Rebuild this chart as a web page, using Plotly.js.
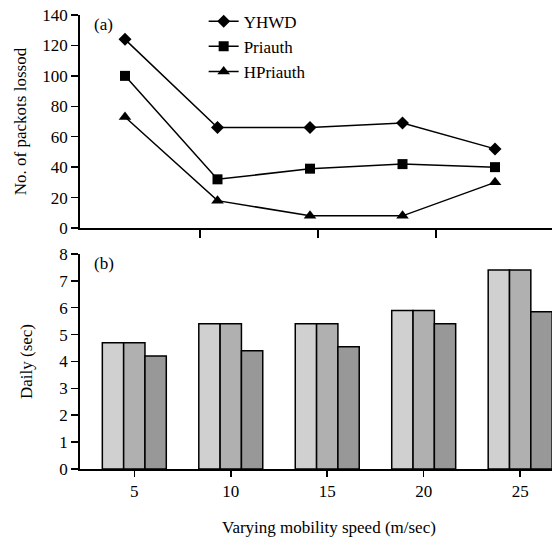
<!DOCTYPE html>
<html><head><meta charset="utf-8">
<script src="https://cdn.plot.ly/plotly-3.0.1.min.js"></script>
<style>html,body{margin:0;padding:0;background:#fff}</style>
</head><body>
<div id="chart" style="width:552px;height:539px"></div>
<script>
const speeds = [5, 10, 15, 20, 25];
const speedLabels = ['5', '10', '15', '20', '25'];
const lossYHWD = [124, 66, 66, 69, 52];
const lossPriauth = [100, 32, 39, 42, 40];
const lossHPriauth = [73, 18, 8, 8, 30];
const delayA = [4.7, 5.4, 5.4, 5.9, 7.4];
const delayB = [4.7, 5.4, 5.4, 5.9, 7.4];
const delayC = [4.2, 4.4, 4.55, 5.4, 5.85];

const font = {family: '"Liberation Serif", "Times New Roman", Times, serif', size: 17, color: '#000'};
const lineStyle = {color: '#000', width: 1.5};
const traces = [
  {x: speeds, y: lossYHWD, name: 'YHWD', type: 'scatter', mode: 'lines+markers', line: lineStyle,
   marker: {symbol: 'diamond', size: 10, color: '#000'}, xaxis: 'x', yaxis: 'y'},
  {x: speeds, y: lossPriauth, name: 'Priauth', type: 'scatter', mode: 'lines+markers', line: lineStyle,
   marker: {symbol: 'square', size: 10, color: '#000'}, xaxis: 'x', yaxis: 'y'},
  {x: speeds, y: lossHPriauth, name: 'HPriauth', type: 'scatter', mode: 'lines+markers', line: lineStyle,
   marker: {symbol: 'triangle-up', size: 11, color: '#000'}, xaxis: 'x', yaxis: 'y'},
  {x: speedLabels, y: delayA, type: 'bar', showlegend: false, xaxis: 'x2', yaxis: 'y2',
   marker: {color: '#d0d0d0', line: {color: '#000', width: 1.5}}},
  {x: speedLabels, y: delayB, type: 'bar', showlegend: false, xaxis: 'x2', yaxis: 'y2',
   marker: {color: '#b0b0b0', line: {color: '#000', width: 1.5}}},
  {x: speedLabels, y: delayC, type: 'bar', showlegend: false, xaxis: 'x2', yaxis: 'y2',
   marker: {color: '#989898', line: {color: '#000', width: 1.5}}}
];
const axisCommon = {showline: true, linecolor: '#000', linewidth: 1.8, ticks: 'outside', tickcolor: '#000',
  tickwidth: 1.5, ticklen: 7, showgrid: false, zeroline: false, tickfont: font};
const layout = {
  width: 552, height: 539,
  margin: {l: 80, r: 0, t: 15, b: 70},
  paper_bgcolor: '#fff', plot_bgcolor: '#fff',
  font: font,
  showlegend: true,
  legend: {x: 0.262, y: 1.025, xanchor: 'left', yanchor: 'top', bgcolor: 'rgba(0,0,0,0)', font: font,
    tracegroupgap: 0, itemwidth: 30},
  barmode: 'group', bargap: 0.337, bargroupgap: 0,
  xaxis: Object.assign({}, axisCommon, {domain: [0, 1], range: [2.568, 28.08], anchor: 'y',
    tickmode: 'array', tickvals: [9.054, 15.43, 21.81], showticklabels: false, ticklen: 8}),
  yaxis: Object.assign({}, axisCommon, {domain: [0.5308, 1], range: [0, 140], dtick: 20, anchor: 'x',
    title: {text: 'No. of packots lossod', font: font, standoff: 11}}),
  xaxis2: Object.assign({}, axisCommon, {domain: [0, 1], range: [-0.563, 4.33], anchor: 'y2', type: 'category',
    ticklen: 6}),
  yaxis2: Object.assign({}, axisCommon, {domain: [0, 0.4736], range: [0, 8], dtick: 1, anchor: 'x2',
    title: {text: 'Daily (sec)', font: font, standoff: 22}}),
  annotations: [
    {text: '(a)', x: 0.025, y: 1.005, xref: 'paper', yref: 'paper', xanchor: 'left', yanchor: 'top', showarrow: false, font: font},
    {text: '(b)', x: 0.025, y: 0.478, xref: 'paper', yref: 'paper', xanchor: 'left', yanchor: 'top', showarrow: false, font: font},
    {text: 'Varying mobility speed (m/sec)', x: 0.527, y: -0.1278, xref: 'paper', yref: 'paper', xanchor: 'center', yanchor: 'middle', showarrow: false, font: font}
  ]
};
Plotly.newPlot('chart', traces, layout, {displayModeBar: false, staticPlot: true});
</script>
</body></html>
